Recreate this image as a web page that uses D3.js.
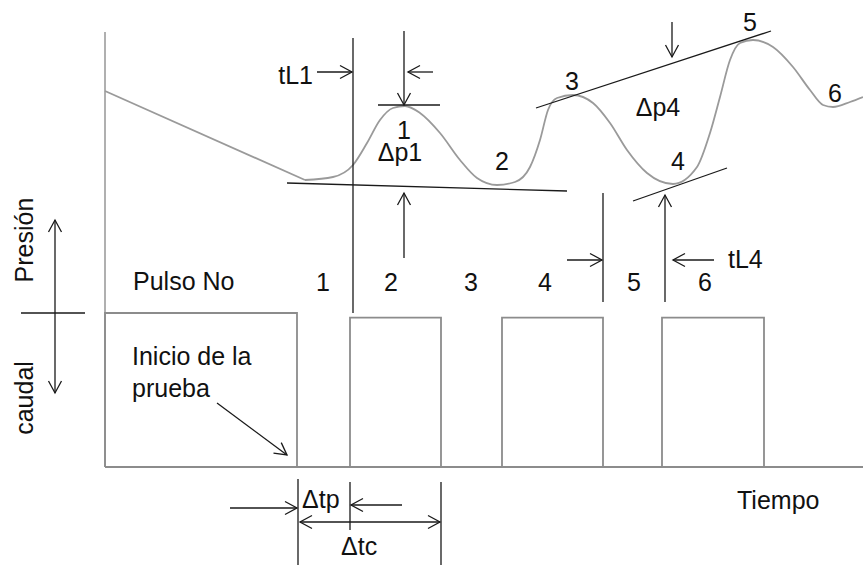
<!DOCTYPE html>
<html>
<head>
<meta charset="utf-8">
<script src="https://cdn.jsdelivr.net/npm/d3@7"></script>
<style>
  html, body { margin: 0; padding: 0; background: #fff; }
  svg { display: block; }
  text { font-family: "Liberation Sans", Arial, sans-serif; font-size: 25px; fill: #111; }
</style>
</head>
<body>
<svg id="chart" width="863" height="565"></svg>
<script>
// Pressure response of a pulse test: time in s, pressure and flow in arbitrary units.
const declineSegment = [[0, 59.5], [100, 15]];
const pressureResponse = [
  [100, 15], [114, 16.5], [124, 22.5], [131, 33.5], [137.5, 45], [144, 51], [150, 52],
  [157.5, 48.5], [167.5, 38.5], [177.5, 25], [186, 16], [196, 12.5], [205, 14],
  [212.5, 21.5], [217.5, 35], [221.5, 50], [226, 56], [234, 57.5], [244, 53.5],
  [252.5, 43.5], [261, 30], [271, 18.5], [284, 13], [296, 21.5], [302.5, 38.5],
  [307.5, 56.5], [312.5, 75], [317.5, 83.5], [324, 85], [334, 81.5], [344, 71.5],
  [352.5, 60], [359, 52.5], [364, 51.5], [372.5, 54], [379, 56.5]
];
// Flow pulses: start time, end time, rate
const flowPulses = [
  [0, 96, 10], [122.5, 168, 9.7], [198.5, 249, 9.7], [278.5, 329.5, 9.7]
];
// Pulse numbers along the time axis
const pulseNumbers = ["1", "2", "3", "4", "5", "6"];
const pulseNumberTimes = [109, 143, 183, 220, 264.5, 300];
// Tangent lines on the pressure curve
const tangentLines = [
  [[91, 13.5], [231, 9.5]],      // base for Δp1
  [[215.5, 51], [333, 89.5]],    // peaks 3-5
  [[264, 4.5], [311, 21]]        // trough 4
];
// Peak / trough labels
const curveLabels = ["1", "2", "3", "4", "5", "6"];
const curveLabelPoints = [[149.5, 40], [198.5, 24.5], [233.5, 64.5], [286.5, 24.5], [322.5, 94], [365, 58.5]];
const deltaLabels = ["Δp1", "Δp4"];
const deltaLabelPoints = [[147.5, 29], [276.5, 51.5]];

const svg = d3.select("#chart");

const x = d3.scaleLinear().domain([0, 379]).range([105, 863]);
const yP = d3.scaleLinear().domain([0, 90]).range([210, 30]);
const yQ = d3.scaleLinear().domain([0, 10]).range([467, 313]);

const ink = "#1a1a1a";
const curveGrey = "#9a9a9a";
const boxGrey = "#8c8c8c";

// arrow helper: open V head at (x2, y2)
function arrow(g, x1, y1, x2, y2, opts = {}) {
  const len = opts.len || 12, half = opts.half || 6.5;
  g.append("line").attr("x1", x1).attr("y1", y1).attr("x2", x2).attr("y2", y2)
    .attr("stroke", ink).attr("stroke-width", 1.3);
  const heads = [[x2, y2, x1, y1]];
  if (opts.both) heads.push([x1, y1, x2, y2]);
  heads.forEach(([tx, ty, fx, fy]) => {
    const a = Math.atan2(ty - fy, tx - fx);
    const bx = tx - len * Math.cos(a), by = ty - len * Math.sin(a);
    const nx = -Math.sin(a) * half, ny = Math.cos(a) * half;
    g.append("path")
      .attr("d", `M${bx + nx},${by + ny}L${tx},${ty}L${bx - nx},${by - ny}`)
      .attr("fill", "none").attr("stroke", ink).attr("stroke-width", 1.3);
  });
}
function vline(g, xx, y1, y2) {
  g.append("line").attr("x1", xx).attr("x2", xx).attr("y1", y1).attr("y2", y2)
    .attr("stroke", ink).attr("stroke-width", 1.3);
}

// axes
const axes = svg.append("g");
axes.append("line").attr("x1", x(0)).attr("x2", x(0)).attr("y1", 32).attr("y2", yQ(0))
  .attr("stroke", "#b0b0b0").attr("stroke-width", 2);
axes.append("line").attr("x1", x(0)).attr("x2", x(379)).attr("y1", yQ(0)).attr("y2", yQ(0))
  .attr("stroke", boxGrey).attr("stroke-width", 2);

// flow pulses
svg.append("g").selectAll("path").data(flowPulses).join("path")
  .attr("d", d => `M${x(d[0])},${yQ(0)}V${yQ(d[2])}H${x(d[1])}V${yQ(0)}`)
  .attr("fill", "none").attr("stroke", boxGrey).attr("stroke-width", 1.8);

// pressure curve
const line = d3.line().x(d => x(d[0])).y(d => yP(d[1]));
svg.append("path").datum(declineSegment).attr("d", line)
  .attr("fill", "none").attr("stroke", curveGrey).attr("stroke-width", 1.8);
svg.append("path").datum(pressureResponse).attr("d", line.curve(d3.curveMonotoneX))
  .attr("fill", "none").attr("stroke", curveGrey).attr("stroke-width", 1.8);

// tangent lines
svg.append("g").selectAll("line").data(tangentLines).join("line")
  .attr("x1", d => x(d[0][0])).attr("y1", d => yP(d[0][1]))
  .attr("x2", d => x(d[1][0])).attr("y2", d => yP(d[1][1]))
  .attr("stroke", ink).attr("stroke-width", 1.3);

const ann = svg.append("g");
// peak 1 amplitude
ann.append("line").attr("x1", x(136.5)).attr("x2", x(167.5)).attr("y1", yP(52.5)).attr("y2", yP(52.5))
  .attr("stroke", ink).attr("stroke-width", 1.3);
arrow(ann, x(149.5), 31, x(149.5), yP(52.5));
arrow(ann, x(149.5), 258, x(149.5), 193);
// lag time tL1
vline(ann, x(124), 38, 313);
arrow(ann, 317, 72, x(124) - 1, 72);
arrow(ann, 433, 72, x(151.5), 72);
// peaks 3-5 amplitude
arrow(ann, x(283.5), 22, x(283.5), 57);
// lag time tL4
vline(ann, x(249), 193, 302);
arrow(ann, 567, 260, x(249) - 1, 260);
arrow(ann, x(280), 302, x(280), 195);
arrow(ann, 714, 260, x(280) + 8, 260);

// pressure / flow axis cross
arrow(ann, 55, 313, 55, 220);
arrow(ann, 55, 313, 55, 393);
ann.append("line").attr("x1", 21).attr("x2", 85).attr("y1", 313).attr("y2", 313)
  .attr("stroke", ink).attr("stroke-width", 1.3);

// start of test pointer
arrow(ann, 217, 403, 287, 455);

// pulse / cycle durations
vline(ann, x(96.5), 479, 565);
vline(ann, x(122.5), 482, 530);
vline(ann, x(168), 482, 565);
arrow(ann, 230, 508, x(96.5) - 1, 508);
arrow(ann, 402, 505, x(122.5) + 1, 505);
arrow(ann, x(96.5) + 2, 522, x(168) - 1, 522, { both: true });

// text
const txt = svg.append("g");
txt.selectAll("text.cl").data(curveLabels).join("text").attr("class", "cl")
  .attr("x", (d, i) => x(curveLabelPoints[i][0])).attr("y", (d, i) => yP(curveLabelPoints[i][1]) + 9)
  .attr("text-anchor", "middle").text(d => d);
txt.selectAll("text.dl").data(deltaLabels).join("text").attr("class", "dl")
  .attr("x", (d, i) => x(deltaLabelPoints[i][0])).attr("y", (d, i) => yP(deltaLabelPoints[i][1]) + 9)
  .attr("text-anchor", "middle").text(d => d);
txt.selectAll("text.pn").data(pulseNumbers).join("text").attr("class", "pn")
  .attr("x", (d, i) => x(pulseNumberTimes[i])).attr("y", 291)
  .attr("text-anchor", "middle").text(d => d);

txt.append("text").attr("x", 133).attr("y", 290).text("Pulso No");
txt.append("text").attr("x", 313).attr("y", 84).attr("text-anchor", "end").text("tL1");
txt.append("text").attr("x", 728).attr("y", 268).text("tL4");
txt.append("text").attr("x", 737).attr("y", 509).text("Tiempo");
txt.append("text").attr("x", 302).attr("y", 508).text("Δtp");
txt.append("text").attr("x", 341).attr("y", 555).text("Δtc");
txt.append("text").attr("x", 132).attr("y", 365).text("Inicio de la");
txt.append("text").attr("x", 132).attr("y", 397).text("prueba");
txt.append("text").attr("transform", "translate(33,240) rotate(-90)").attr("text-anchor", "middle").text("Presión");
txt.append("text").attr("transform", "translate(33,398) rotate(-90)").attr("text-anchor", "middle").text("caudal");
</script>
</body>
</html>
